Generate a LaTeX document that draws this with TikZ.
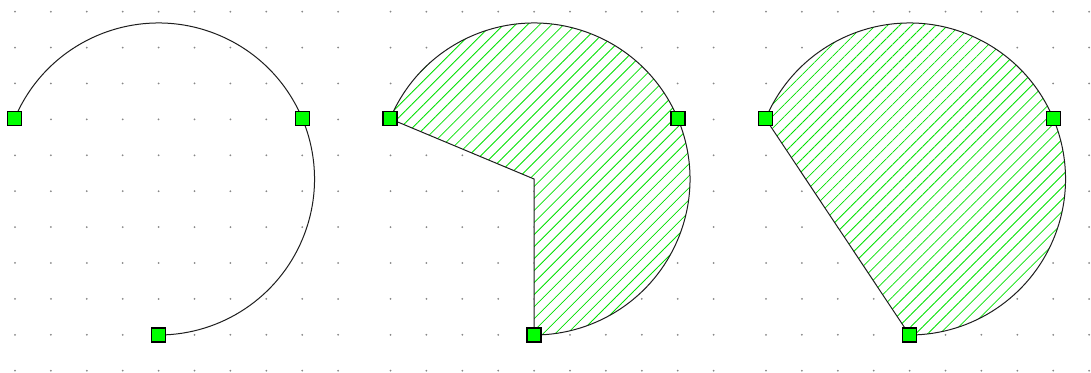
\documentclass[tikz,border=0pt]{standalone}
\usetikzlibrary{patterns.meta,calc}
\definecolor{sqgreen}{RGB}{0,255,0}
\definecolor{hatchc}{RGB}{0,225,0}
\definecolor{dotc}{RGB}{135,135,135}
\definecolor{edgec}{RGB}{30,30,30}
\begin{document}
\begin{tikzpicture}[x=1pt,y=1pt,
  handle/.style={draw=black,fill=sqgreen,line width=1.3pt,minimum size=14pt,inner sep=0pt,shape=rectangle},
  outline/.style={draw=edgec,line width=1pt},
  hatched/.style={fill=white,postaction={pattern={Lines[angle=45,distance=8.5pt,line width=0.8pt]},pattern color=hatchc}}]
\useasboundingbox (0,0) rectangle (1091,372);
\fill[white] (0,0) rectangle (1091,372);
% dot grids
\foreach \ox in {0,375.5,751}
  \foreach \i in {0,...,9}
    \foreach \j in {0,...,10}
      \fill[dotc] (15+\ox+35.9*\i, 360.3-35.9*\j) circle (1);
% centres
\coordinate (c1) at (158.5,193);
\coordinate (c2) at (534,193);
\coordinate (c3) at (909.5,193);
% panel 1: open arc
\draw[outline] ($(c1)+(157.3:156)$) arc[start angle=157.3,end angle=-90,radius=156];
% panel 2: sector
\path[hatched] (c2) -- ($(c2)+(157.3:156)$) arc[start angle=157.3,end angle=-90,radius=156] -- cycle;
\draw[outline] (c2) -- ($(c2)+(157.3:156)$) arc[start angle=157.3,end angle=-90,radius=156] -- cycle;
% panel 3: segment
\path[hatched] ($(c3)+(157.3:156)$) arc[start angle=157.3,end angle=-90,radius=156] -- cycle;
\draw[outline] ($(c3)+(157.3:156)$) arc[start angle=157.3,end angle=-90,radius=156] -- cycle;
% handles
\foreach \k in {1,2,3}{
  \node[handle] (s\k) at ($(c\k)+(157.3:156)$) {};
  \node[handle] (m\k) at ($(c\k)+(22.7:156)$) {};
  \node[handle] (e\k) at ($(c\k)+(-90:156)$) {};
}
\end{tikzpicture}
\end{document}
